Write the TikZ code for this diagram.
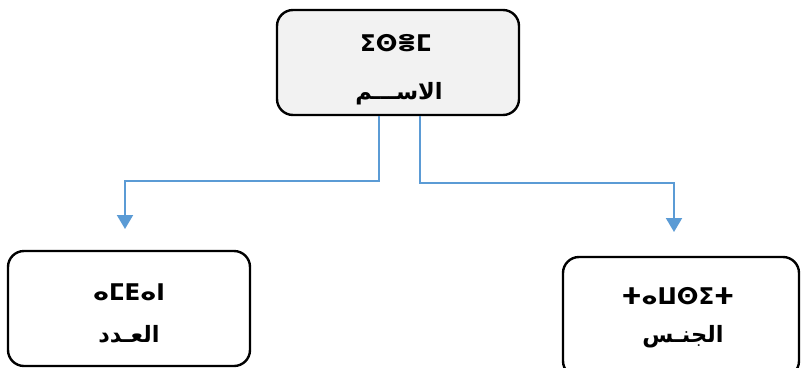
\documentclass[tikz,border=0pt]{standalone}
\usepackage{fontspec}
\usetikzlibrary{arrows.meta}
\TeXXeTstate=1
\newfontfamily\tfngfont{DejaVu Sans}
\newfontfamily\arabicfont[Script=Arabic]{DejaVu Sans}
\definecolor{linkblue}{HTML}{5B9BD5}
\definecolor{boxgray}{HTML}{F2F2F2}
\begin{document}
\begin{tikzpicture}[x = 1pt, y = -1pt,
  box/.style = {draw = black, line width = 2.4pt, rounded corners = 16pt,
    minimum width = 242pt, inner sep = 0pt},
  tif/.style = {font = \tfngfont\bfseries\fontsize{23}{27}\selectfont},
  arb/.style = {font = \arabicfont\bfseries\fontsize{22.5}{26}\selectfont},
  link/.style = {draw = linkblue, line width = 2pt,
    -{Triangle[width = 16pt, length = 14pt]}}]
  \useasboundingbox (0,0) rectangle (802,367);
  % boxes
  \node[box, fill = boxgray, minimum height = 105pt] (isem) at (398,62.5) {};
  \node[box, minimum height = 115pt] (amdan) at (129,308.5) {};
  \node[box, minimum width = 236pt, minimum height = 120pt] (tawsit) at (681,317) {};
  % labels
  \node[tif] (isemtf) at (396,43) {ⵉⵙⴻⵎ};
  \node[arb] (isemar) at (399,94) {\beginR الاســـم\endR};
  \node[tif] (amdantf) at (129,292) {ⴰⵎⴹⴰⵏ};
  \node[arb] (amdanar) at (129,334) {\beginR العـدد\endR};
  \node[tif] (tawsittf) at (678,296) {ⵜⴰⵡⵙⵉⵜ};
  \node[arb] (tawsitar) at (683,337) {\beginR الجنـس\endR};
  % arrows
  \coordinate (amdantip) at (125,229);
  \coordinate (tawsittip) at (674,232);
  \draw[link] ([xshift = -19pt]isem.south) -- ++(0,65) -| (amdantip);
  \draw[link] ([xshift = 22pt]isem.south) -- ++(0,67) -| (tawsittip);
\end{tikzpicture}
\end{document}
